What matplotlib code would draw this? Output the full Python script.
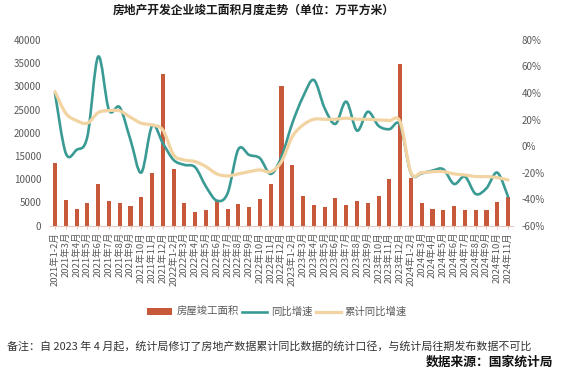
import matplotlib
matplotlib.use("Agg")
import matplotlib.pyplot as plt
from matplotlib.path import Path
from matplotlib.patches import PathPatch, Patch
from matplotlib.lines import Line2D
import numpy as np

plt.rcParams['font.family'] = ['Noto Sans CJK SC', 'DejaVu Sans']

categories = (["2021年1-2月"] + [f"2021年{m}月" for m in range(3, 13)]
              + ["2022年1-2月"] + [f"2022年{m}月" for m in range(3, 13)]
              + ["2023年1-2月"] + [f"2023年{m}月" for m in range(3, 13)]
              + ["2024年1-2月"] + [f"2024年{m}月" for m in range(3, 12)])

area = [13570, 5535, 3600, 4950, 9050, 5320, 4950, 4310, 6250, 11420, 32680,
        12280, 4820, 3020, 3380, 5320, 3530, 4740, 4090, 5820, 9050, 30160,
        13140, 6330, 4520, 4090, 6030, 4520, 5320, 4950, 6460, 10120, 34760,
        10340, 4950, 3660, 3380, 4310, 3380, 3380, 3380, 5100, 6250]

yoy = [39.8, -5.4, -2.9, 7.1, 67.4, 27.2, 29.2, 4.6, -20.0, 15.2, 2.1,
       -10.5, -14.2, -16.0, -30.6, -41.1, -35.6, -2.4, -6.7, -9.2, -21.0, -8.0,
       17.2, 37.2, 49.8, 28.5, 16.7, 33.5, 11.6, 25.9, 15.2, 12.7, 15.9,
       -20.5, -20.5, -18.5, -17.5, -28.6, -23.0, -36.1, -31.8, -20.0, -38.1]

cum_yoy = [41.0, 24.7, 19.2, 17.2, 25.2, 26.7, 26.5, 21.7, 17.2, 15.9, 12.1,
           -6.7, -10.5, -11.7, -15.5, -21.0, -22.5, -21.0, -19.3, -18.0, -19.3, -11.7,
           7.1, 15.9, 20.2, 20.2, 20.2, 21.0, 20.2, 20.2, 19.7, 19.2, 18.2,
           -20.0, -20.0, -19.3, -19.3, -21.0, -21.8, -23.0, -23.0, -23.8, -25.5]

left_ticks = list(range(0, 40001, 5000))
right_ticks = list(range(-60, 81, 20))

title = "房地产开发企业竣工面积月度走势（单位：万平方米）"
note = "备注：自 2023 年 4 月起，统计局修订了房地产数据累计同比数据的统计口径，与统计局往期发布数据不可比"
source = "数据来源：国家统计局"
legend_labels = ["房屋竣工面积", "同比增速", "累计同比增速"]

BAR_C = "#C8583A"
GREEN_C = "#3A9A94"
BEIGE_C = "#F2D3A2"
TXT_C = "#595959"


def smooth_path(xs, ys):
    n = len(xs)
    verts = [(xs[0], ys[0])]
    codes = [Path.MOVETO]
    for i in range(n - 1):
        p0 = i - 1 if i > 0 else i
        p3 = i + 2 if i + 2 < n else i + 1
        c1 = (xs[i] + (xs[i + 1] - xs[p0]) / 6.0, ys[i] + (ys[i + 1] - ys[p0]) / 6.0)
        c2 = (xs[i + 1] - (xs[p3] - xs[i]) / 6.0, ys[i + 1] - (ys[p3] - ys[i]) / 6.0)
        verts += [c1, c2, (xs[i + 1], ys[i + 1])]
        codes += [Path.CURVE4] * 3
    return Path(verts, codes)


fig = plt.figure(figsize=(5.67, 3.73), dpi=100)
ax = fig.add_axes([0.0875, 0.395, 0.818, 0.498])
x = np.arange(len(categories))
ax.bar(x, area, width=0.38, color=BAR_C, zorder=2)
ax.set_xlim(-0.5, len(categories) - 0.5)
ax.set_ylim(0, 40000)
ax.set_yticks(left_ticks)
ax.set_yticklabels([str(v) for v in left_ticks])
ax.set_xticks(x)
ax.set_xticklabels(categories, rotation=90, fontsize=6.8, color=TXT_C)
ax.tick_params(axis='y', length=0, labelsize=7, labelcolor=TXT_C, pad=6)
ax.tick_params(axis='x', length=2.5, color="#E3C9C0", pad=2)
for s in ['top', 'right', 'left']:
    ax.spines[s].set_visible(False)
ax.spines['bottom'].set_color("#E3C9C0")
ax.spines['bottom'].set_linewidth(0.8)

ax2 = ax.twinx()
ax2.set_ylim(-60, 80)
ax2.set_yticks(right_ticks)
ax2.set_yticklabels([f"{v}%" for v in right_ticks])
ax2.tick_params(axis='y', length=0, labelsize=7, labelcolor=TXT_C, pad=6)
for s in ['top', 'right', 'left', 'bottom']:
    ax2.spines[s].set_visible(False)

ax2.add_patch(PathPatch(smooth_path(x, yoy), fill=False, edgecolor=GREEN_C,
                        lw=1.9, capstyle='round', joinstyle='round', zorder=3))
ax2.add_patch(PathPatch(smooth_path(x, cum_yoy), fill=False, edgecolor=BEIGE_C,
                        lw=2.3, capstyle='round', joinstyle='round', zorder=4))

fig.text(0.448, 0.972, title, ha='center', va='center', fontsize=8.5,
         fontweight='bold', color="#1a1a1a")

handles = [Patch(facecolor=BAR_C, edgecolor='none'),
           Line2D([0], [0], color=GREEN_C, lw=1.9),
           Line2D([0], [0], color=BEIGE_C, lw=2.3)]
fig.legend(handles, legend_labels, loc='center', bbox_to_anchor=(0.489, 0.164),
           ncol=3, frameon=False, fontsize=7.5, handlelength=2.4, handleheight=0.6,
           handletextpad=0.4, columnspacing=0.3, labelcolor=TXT_C)

fig.text(0.012, 0.073, note, ha='left', va='center', fontsize=7.9, color="#333333")
fig.text(0.975, 0.03, source, ha='right', va='center', fontsize=9.2,
         fontweight='bold', color="#111111")

fig.savefig("out.png", dpi=100)
